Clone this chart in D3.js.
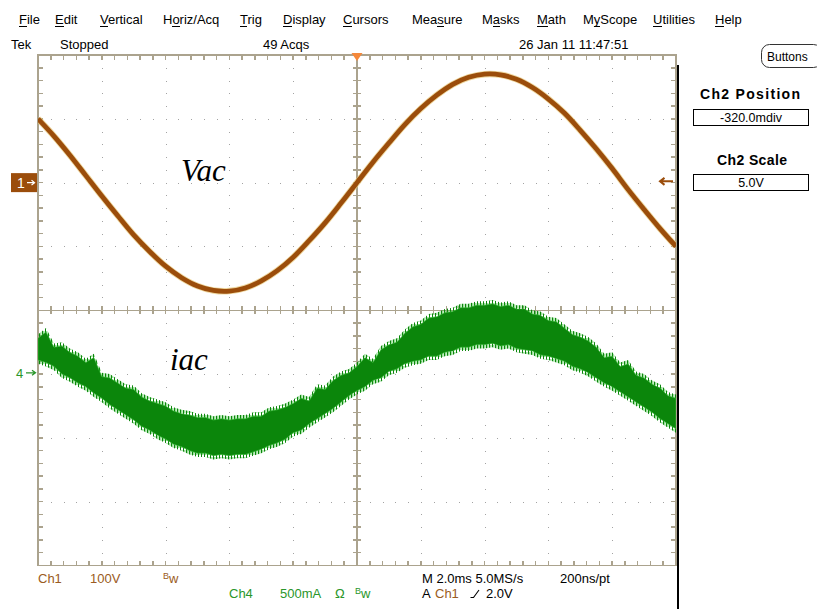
<!DOCTYPE html>
<html>
<head>
<meta charset="utf-8">
<script src="https://cdn.jsdelivr.net/npm/d3@7/dist/d3.min.js"></script>
<style>
  html, body { margin: 0; padding: 0; background: #ffffff; }
  svg { display: block; font-family: "Liberation Sans", Arial, sans-serif; }
</style>
</head>
<body>
<script>
// ---- Acquisition record: 10 divisions at 2.0 ms/div ----
const timeSpanMs = [0, 20];

// Ch1 line voltage (V), one sample every 0.5 ms
const vacStepMs = 0.5;
const vacVolts = [100, 73, 43, 11, -21, -52, -82, -108, -131, -149, -162, -169, -170, -165,
  -154, -138, -117, -91, -63, -32, 0, 32, 62, 91, 116, 137, 154, 165, 170, 169, 162, 149,
  131, 109, 82, 53, 22, -11, -42, -72, -100];

// Ch4 line current (A): upper and lower edge of the ripple band, one sample every 0.25 ms
const iacStepMs = 0.25;
const iacTopAmps = [0.27, 0.32, 0.20, 0.21, 0.16, 0.13, 0.08, 0.12, -0.03, -0.04,
  -0.08, -0.12, -0.13, -0.19, -0.22, -0.24, -0.26, -0.30, -0.32, -0.33,
  -0.35, -0.35, -0.37, -0.36, -0.37, -0.36, -0.36, -0.34, -0.34, -0.30,
  -0.29, -0.27, -0.24, -0.20, -0.22, -0.12, -0.13, -0.06, -0.02, 0.00,
  0.05, 0.12, 0.08, 0.18, 0.22, 0.24, 0.31, 0.36, 0.38, 0.43,
  0.44, 0.47, 0.48, 0.51, 0.51, 0.53, 0.53, 0.54, 0.52, 0.53,
  0.50, 0.50, 0.46, 0.45, 0.41, 0.40, 0.35, 0.30, 0.28, 0.25,
  0.20, 0.12, 0.13, 0.05, 0.07, -0.02, -0.04, -0.09, -0.12, -0.18, -0.20];
const iacBottomAmps = [0.10, 0.08, 0.05, -0.01, -0.04, -0.08, -0.11, -0.16, -0.20, -0.25,
  -0.29, -0.33, -0.37, -0.42, -0.45, -0.49, -0.52, -0.56, -0.58, -0.61,
  -0.63, -0.63, -0.65, -0.64, -0.65, -0.64, -0.64, -0.62, -0.60, -0.57,
  -0.55, -0.52, -0.47, -0.45, -0.40, -0.36, -0.32, -0.28, -0.23, -0.18,
  -0.14, -0.11, -0.06, -0.04, 0.01, 0.03, 0.07, 0.09, 0.10, 0.13,
  0.13, 0.16, 0.17, 0.20, 0.20, 0.22, 0.22, 0.23, 0.21, 0.22,
  0.19, 0.18, 0.17, 0.14, 0.13, 0.11, 0.09, 0.05, 0.03, 0.00,
  -0.04, -0.08, -0.11, -0.15, -0.19, -0.23, -0.27, -0.31, -0.36, -0.40, -0.44];

// Channel settings
const ch1VoltsPerDiv = 100, ch1PositionDiv = 2;
const ch4AmpsPerDiv = 0.5, ch4PositionDiv = -0.98;
const triggerTimeMs = 10, triggerLevelV = 2.0;

// Menu bar
const menuLabels = ["File", "Edit", "Vertical", "Horiz/Acq", "Trig", "Display", "Cursors",
  "Measure", "Masks", "Math", "MyScope", "Utilities", "Help"];
const menuAccessKey = [0, 0, 0, 1, 0, 0, 0, 3, 1, 0, 1, 0, 0];
const menuLeft = [19, 55, 100, 163, 240, 283, 343, 412, 482, 537, 583, 653, 715];

const W = 817, H = 609;
const HDIV = 10, VDIV = 8, MINOR = 5;
const gx0 = 38, gx1 = 676, gy0 = 55, gy1 = 565.5;

const colors = {
  grid: "#aba38e", dot: "#a3a3a3", ch1: "#9b4d0b", ch1Text: "#9a5b22",
  ch1Halo: "#e8c878", ch4: "#0b860b", ch4Edge: "#3cbf3c", ch4Text: "#2a962a",
  trig: "#f5883a"
};

const svg = d3.select("body").append("svg").attr("width", W).attr("height", H);
svg.append("rect").attr("width", W).attr("height", H).attr("fill", "#fff");

// Scales
const xDiv = d3.scaleLinear([0, HDIV], [gx0, gx1]);
const yDiv = d3.scaleLinear([-VDIV / 2, VDIV / 2], [gy1, gy0]);
const xT = d3.scaleLinear(timeSpanMs, [gx0, gx1]);
const yV = d3.scaleLinear([(-VDIV / 2 - ch1PositionDiv) * ch1VoltsPerDiv, (VDIV / 2 - ch1PositionDiv) * ch1VoltsPerDiv], [gy1, gy0]);
const yI = d3.scaleLinear([(-VDIV / 2 - ch4PositionDiv) * ch4AmpsPerDiv, (VDIV / 2 - ch4PositionDiv) * ch4AmpsPerDiv], [gy1, gy0]);

// ---- Graticule ----
const grat = svg.append("g").attr("shape-rendering", "crispEdges");
const hMinor = d3.range(0, HDIV * MINOR + 1).map(i => i / MINOR);
const vMinor = d3.range(0, VDIV * MINOR + 1).map(j => j / MINOR - VDIV / 2);

// dotted major lines
const dots = [];
d3.range(1, HDIV).filter(i => i !== HDIV / 2).forEach(i => {
  vMinor.slice(1, -1).forEach(v => dots.push([xDiv(i), yDiv(v)]));
});
d3.range(-VDIV / 2 + 1, VDIV / 2).filter(j => j !== 0).forEach(j => {
  hMinor.slice(1, -1).forEach(h => dots.push([xDiv(h), yDiv(j)]));
});
grat.selectAll("rect.dot").data(dots).join("rect").attr("class", "dot")
  .attr("x", d => Math.round(d[0]) - 0.5).attr("y", d => Math.round(d[1]) - 0.5)
  .attr("width", 1.5).attr("height", 1.5).attr("fill", colors.dot);

// center cross
grat.append("line").attr("x1", xDiv(HDIV / 2)).attr("x2", xDiv(HDIV / 2)).attr("y1", gy0).attr("y2", gy1)
  .attr("stroke", colors.grid).attr("stroke-width", 1.5);
grat.append("line").attr("x1", gx0).attr("x2", gx1).attr("y1", yDiv(0)).attr("y2", yDiv(0))
  .attr("stroke", colors.grid).attr("stroke-width", 1.5);

// minor ticks on frame and on center cross
const tickLen = 5;
const ticks = [];
hMinor.forEach(h => {
  const x = xDiv(h);
  ticks.push([x, gy0, x, gy0 + tickLen], [x, gy1, x, gy1 - tickLen], [x, yDiv(0) - 4, x, yDiv(0) + 4]);
});
vMinor.forEach(v => {
  const y = yDiv(v);
  ticks.push([gx0, y, gx0 + tickLen, y], [gx1, y, gx1 - tickLen, y], [xDiv(HDIV / 2) - 4, y, xDiv(HDIV / 2) + 4, y]);
});
grat.selectAll("line.tick").data(ticks).join("line").attr("class", "tick")
  .attr("x1", d => d[0]).attr("y1", d => d[1]).attr("x2", d => d[2]).attr("y2", d => d[3])
  .attr("stroke", colors.grid).attr("stroke-width", 1.5);

grat.append("rect").attr("x", gx0).attr("y", gy0).attr("width", gx1 - gx0).attr("height", gy1 - gy0)
  .attr("fill", "none").attr("stroke", colors.grid).attr("stroke-width", 1.8);

// ---- Waveforms ----
const defs = svg.append("defs");
defs.append("clipPath").attr("id", "screen").append("rect")
  .attr("x", gx0).attr("y", gy0).attr("width", gx1 - gx0).attr("height", gy1 - gy0);
// fine vertical hatching used for the switching-ripple fringe of the current trace
const hatch = defs.append("pattern").attr("id", "ripple").attr("patternUnits", "userSpaceOnUse")
  .attr("width", 3).attr("height", 7);
hatch.append("rect").attr("x", 0).attr("y", 0).attr("width", 1).attr("height", 7).attr("fill", colors.ch4);
hatch.append("rect").attr("x", 1.5).attr("y", 2).attr("width", 0.8).attr("height", 5).attr("fill", colors.ch4Edge);

const traces = svg.append("g").attr("clip-path", "url(#screen)");

const fringe = 0.03; // A, extent of the ripple hairlines beyond the band
const iacFringe = d3.area()
  .x((d, i) => xT(i * iacStepMs))
  .y0((d, i) => yI(iacBottomAmps[i] - fringe))
  .y1(d => yI(d + fringe));
traces.append("path").datum(iacTopAmps).attr("d", iacFringe).attr("fill", "url(#ripple)");

const iacArea = d3.area()
  .x((d, i) => xT(i * iacStepMs))
  .y0((d, i) => yI(iacBottomAmps[i]))
  .y1(d => yI(d));
traces.append("path").datum(iacTopAmps).attr("d", iacArea)
  .attr("fill", colors.ch4).attr("stroke", colors.ch4Edge).attr("stroke-width", 0.6)
  .attr("stroke-linejoin", "miter");

const vacLine = d3.line()
  .x((d, i) => xT(i * vacStepMs))
  .y(d => yV(d))
  .curve(d3.curveCatmullRom);
traces.append("path").datum(vacVolts).attr("d", vacLine)
  .attr("fill", "none").attr("stroke", colors.ch1Halo).attr("stroke-width", 6.5).attr("opacity", 0.7);
traces.append("path").datum(vacVolts).attr("d", vacLine)
  .attr("fill", "none").attr("stroke", colors.ch1).attr("stroke-width", 4.8);

// trace annotations
svg.append("text").attr("x", 181).attr("y", 181).text("Vac")
  .attr("font-family", "'Liberation Serif', 'Times New Roman', serif").attr("font-style", "italic")
  .attr("font-size", 31).attr("fill", "#000");
svg.append("text").attr("x", 170).attr("y", 370).text("iac")
  .attr("font-family", "'Liberation Serif', 'Times New Roman', serif").attr("font-style", "italic")
  .attr("font-size", 31).attr("fill", "#000");

// ---- Markers ----
// trigger position
const tx = xT(triggerTimeMs);
svg.append("path").attr("d", `M${tx - 5.5},${gy0 - 2}L${tx + 5.5},${gy0 - 2}L${tx},${gy0 + 6}Z`)
  .attr("fill", colors.trig);

// channel 1 ground marker
const c1y = yV(0);
svg.append("rect").attr("x", 11).attr("y", c1y - 9.5).attr("width", 26).attr("height", 19).attr("fill", colors.ch1);
svg.append("text").attr("x", 17).attr("y", c1y + 5).text("1").attr("fill", "#fff").attr("font-size", 14);
svg.append("path").attr("d", `M27,${c1y}H34M31.5,${c1y - 2.5}L34.5,${c1y}L31.5,${c1y + 2.5}`)
  .attr("stroke", "#fff").attr("stroke-width", 1.3).attr("fill", "none");

// channel 4 ground marker
const c4y = yI(0);
svg.append("text").attr("x", 16).attr("y", c4y + 5).text("4").attr("fill", colors.ch4Text).attr("font-size", 13);
svg.append("path").attr("d", `M26,${c4y}H35M32,${c4y - 2.5}L35.5,${c4y}L32,${c4y + 2.5}`)
  .attr("stroke", colors.ch4Text).attr("stroke-width", 1.3).attr("fill", "none");

// trigger level on the right edge
const tly = yV(triggerLevelV);
svg.append("path").attr("d", `M673,${tly}H661M664.5,${tly - 3.5}L660,${tly}L664.5,${tly + 3.5}`)
  .attr("stroke", colors.ch1).attr("stroke-width", 2).attr("fill", "none");

// screen edge
svg.append("line").attr("x1", 678).attr("x2", 678).attr("y1", 65).attr("y2", H)
  .attr("stroke", "#000").attr("stroke-width", 2);

// ---- Menu bar ----
const menu = svg.append("g").attr("font-size", 13).attr("fill", "#000");
menuLabels.forEach((lab, i) => {
  const t = menu.append("text").attr("x", menuLeft[i]).attr("y", 24).text(lab);
  const k = menuAccessKey[i];
  const node = t.node();
  const s = node.getStartPositionOfChar(k).x;
  const e = node.getEndPositionOfChar(k).x;
  menu.append("line").attr("x1", s).attr("x2", e).attr("y1", 26.5).attr("y2", 26.5)
    .attr("stroke", "#000").attr("stroke-width", 1).attr("shape-rendering", "crispEdges");
});

// ---- Status line ----
const status = svg.append("g").attr("font-size", 13).attr("fill", "#000");
status.append("text").attr("x", 11).attr("y", 49).text("Tek");
status.append("text").attr("x", 60).attr("y", 49).text("Stopped");
status.append("text").attr("x", 263).attr("y", 49).text("49 Acqs");
status.append("text").attr("x", 519).attr("y", 49).text("26 Jan 11 11:47:51");

// ---- Right panel ----
const panel = svg.append("g");
panel.append("rect").attr("x", 761.5).attr("y", 44.5).attr("width", 60).attr("height", 23).attr("rx", 8)
  .attr("fill", "#fff").attr("stroke", "#333").attr("stroke-width", 1);
panel.append("text").attr("x", 767).attr("y", 61).text("Buttons").attr("font-size", 12).attr("fill", "#000");

panel.append("text").attr("x", 750).attr("y", 99).attr("text-anchor", "middle").text("Ch2 Position")
  .attr("font-size", 14).attr("font-weight", "bold").attr("textLength", 100).attr("lengthAdjust", "spacing");
panel.append("rect").attr("x", 693.5).attr("y", 109.5).attr("width", 115).attr("height", 16)
  .attr("fill", "#fff").attr("stroke", "#000");
panel.append("text").attr("x", 751).attr("y", 122).attr("text-anchor", "middle").text("-320.0mdiv").attr("font-size", 12.5);

panel.append("text").attr("x", 752).attr("y", 165).attr("text-anchor", "middle").text("Ch2 Scale")
  .attr("font-size", 14).attr("font-weight", "bold").attr("textLength", 70).attr("lengthAdjust", "spacing");
panel.append("rect").attr("x", 693.5).attr("y", 174.5).attr("width", 115).attr("height", 16)
  .attr("fill", "#fff").attr("stroke", "#000");
panel.append("text").attr("x", 751).attr("y", 187).attr("text-anchor", "middle").text("5.0V").attr("font-size", 12.5);

// ---- Bottom readouts ----
const foot = svg.append("g").attr("font-size", 13);
function bw(x, y, color) {
  const t = foot.append("text").attr("x", x).attr("y", y).attr("fill", color);
  t.append("tspan").attr("font-size", 9).attr("dy", -4).text("B");
  t.append("tspan").attr("dy", 4).text("w");
}
foot.append("text").attr("x", 38).attr("y", 583).text("Ch1").attr("fill", colors.ch1Text);
foot.append("text").attr("x", 90).attr("y", 583).text(`${ch1VoltsPerDiv}V`).attr("fill", colors.ch1Text);
bw(163, 583, colors.ch1Text);
foot.append("text").attr("x", 229).attr("y", 598).text("Ch4").attr("fill", colors.ch4Text);
foot.append("text").attr("x", 280).attr("y", 598).text(`${ch4AmpsPerDiv * 1000}mA`).attr("fill", colors.ch4Text);
foot.append("text").attr("x", 335).attr("y", 598).text("Ω").attr("fill", colors.ch4Text);
bw(355, 598, colors.ch4Text);

foot.append("text").attr("x", 422).attr("y", 583).text("M 2.0ms 5.0MS/s").attr("fill", "#000");
foot.append("text").attr("x", 560).attr("y", 583).text("200ns/pt").attr("fill", "#000");
foot.append("text").attr("x", 422).attr("y", 598).text("A").attr("fill", "#000");
foot.append("text").attr("x", 435).attr("y", 598).text("Ch1").attr("fill", colors.ch1Text);
foot.append("path").attr("d", "M470.5,597.5H473.5L479,590").attr("stroke", "#000").attr("stroke-width", 1.1).attr("fill", "none");
foot.append("text").attr("x", 486).attr("y", 598).text(`${triggerLevelV.toFixed(1)}V`).attr("fill", "#000");
</script>
</body>
</html>
